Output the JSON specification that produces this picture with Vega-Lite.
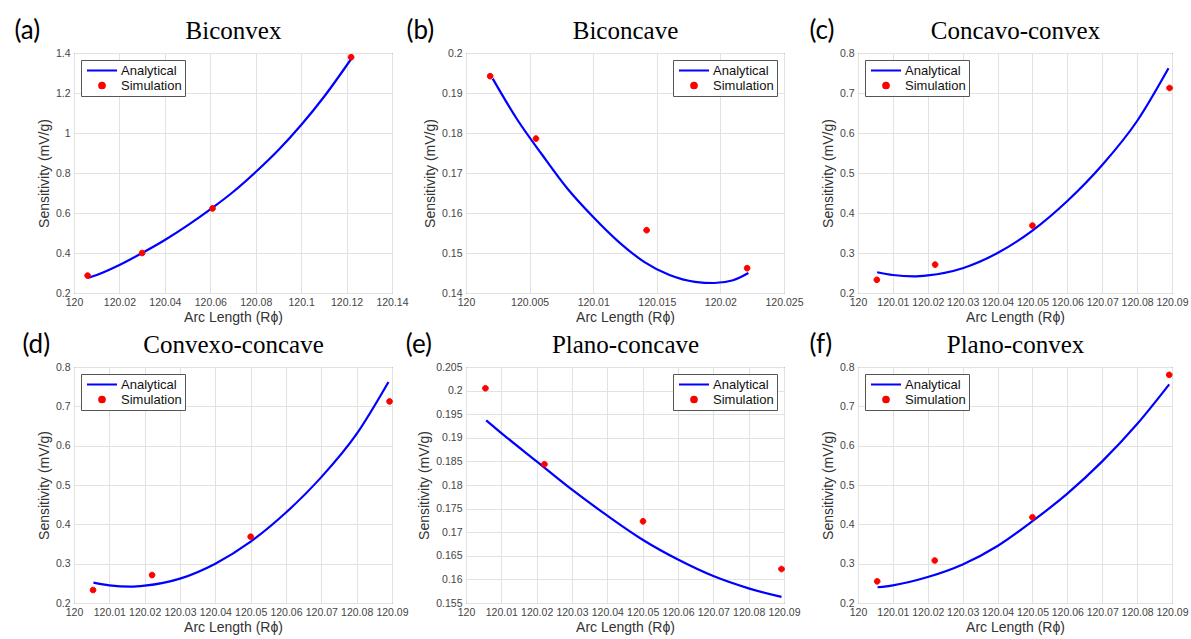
{
  "$schema": "https://vega.github.io/schema/vega-lite/v6.json",
  "background": "white",
  "padding": {"left": 13, "top": 17, "right": 0, "bottom": 0},
  "config": {
    "font": "Liberation Sans",
    "view": {"stroke": "#3c3c3c", "strokeWidth": 1},
    "axis": {"labelFont": "Liberation Sans", "labelFontSize": 10.5, "labelColor": "#444444", "titleFont": "Liberation Sans", "titleFontSize": 14, "titleFontWeight": "normal", "titleColor": "#333333", "gridColor": "#e2e2e2", "gridWidth": 1, "domain": false, "ticks": false, "labelPadding": 4, "labelOverlap": false, "labelFlush": false},
    "axisX": {"titlePadding": 3},
    "axisY": {"titlePadding": 4},
    "legend": {"strokeColor": "#555555", "fillColor": "white", "padding": 3, "offset": 7, "labelFont": "Liberation Sans", "labelFontSize": 13, "labelColor": "#111111", "symbolSize": 900, "symbolStrokeWidth": 2, "rowPadding": 0, "clipHeight": 15, "symbolOffset": 2, "labelOffset": 3, "cornerRadius": 0, "title": null},
    "title": {"font": "Lato", "fontSize": 26, "fontWeight": "normal", "color": "black"}
  },
  "datasets": {
    "d": [
      {"panel": "a", "series": "Analytical", "x": 120.006, "y": 0.275},
      {"panel": "a", "series": "Analytical", "x": 120.01, "y": 0.29},
      {"panel": "a", "series": "Analytical", "x": 120.02, "y": 0.34},
      {"panel": "a", "series": "Analytical", "x": 120.03, "y": 0.4},
      {"panel": "a", "series": "Analytical", "x": 120.04, "y": 0.465},
      {"panel": "a", "series": "Analytical", "x": 120.05, "y": 0.538},
      {"panel": "a", "series": "Analytical", "x": 120.06, "y": 0.618},
      {"panel": "a", "series": "Analytical", "x": 120.07, "y": 0.705},
      {"panel": "a", "series": "Analytical", "x": 120.08, "y": 0.805},
      {"panel": "a", "series": "Analytical", "x": 120.09, "y": 0.915},
      {"panel": "a", "series": "Analytical", "x": 120.1, "y": 1.04},
      {"panel": "a", "series": "Analytical", "x": 120.11, "y": 1.18},
      {"panel": "a", "series": "Analytical", "x": 120.122, "y": 1.37},
      {"panel": "a", "series": "Simulation", "x": 120.006, "y": 0.287},
      {"panel": "a", "series": "Simulation", "x": 120.03, "y": 0.4},
      {"panel": "a", "series": "Simulation", "x": 120.061, "y": 0.623},
      {"panel": "a", "series": "Simulation", "x": 120.122, "y": 1.379},

      {"panel": "b", "series": "Analytical", "x": 120.0021, "y": 0.1936},
      {"panel": "b", "series": "Analytical", "x": 120.004, "y": 0.1835},
      {"panel": "b", "series": "Analytical", "x": 120.006, "y": 0.1745},
      {"panel": "b", "series": "Analytical", "x": 120.008, "y": 0.166},
      {"panel": "b", "series": "Analytical", "x": 120.01, "y": 0.159},
      {"panel": "b", "series": "Analytical", "x": 120.012, "y": 0.1528},
      {"panel": "b", "series": "Analytical", "x": 120.014, "y": 0.1478},
      {"panel": "b", "series": "Analytical", "x": 120.016, "y": 0.1445},
      {"panel": "b", "series": "Analytical", "x": 120.018, "y": 0.1428},
      {"panel": "b", "series": "Analytical", "x": 120.0195, "y": 0.1425},
      {"panel": "b", "series": "Analytical", "x": 120.021, "y": 0.1432},
      {"panel": "b", "series": "Analytical", "x": 120.0222, "y": 0.145},
      {"panel": "b", "series": "Simulation", "x": 120.0019, "y": 0.1942},
      {"panel": "b", "series": "Simulation", "x": 120.0055, "y": 0.1786},
      {"panel": "b", "series": "Simulation", "x": 120.0142, "y": 0.1557},
      {"panel": "b", "series": "Simulation", "x": 120.0221, "y": 0.1462},

      {"panel": "c", "series": "Analytical", "x": 120.0055, "y": 0.252},
      {"panel": "c", "series": "Analytical", "x": 120.01, "y": 0.245},
      {"panel": "c", "series": "Analytical", "x": 120.016, "y": 0.2415},
      {"panel": "c", "series": "Analytical", "x": 120.02, "y": 0.244},
      {"panel": "c", "series": "Analytical", "x": 120.03, "y": 0.262},
      {"panel": "c", "series": "Analytical", "x": 120.04, "y": 0.3},
      {"panel": "c", "series": "Analytical", "x": 120.05, "y": 0.356},
      {"panel": "c", "series": "Analytical", "x": 120.06, "y": 0.43},
      {"panel": "c", "series": "Analytical", "x": 120.07, "y": 0.52},
      {"panel": "c", "series": "Analytical", "x": 120.08, "y": 0.63},
      {"panel": "c", "series": "Analytical", "x": 120.089, "y": 0.762},
      {"panel": "c", "series": "Simulation", "x": 120.0054, "y": 0.233},
      {"panel": "c", "series": "Simulation", "x": 120.0221, "y": 0.271},
      {"panel": "c", "series": "Simulation", "x": 120.05, "y": 0.3685},
      {"panel": "c", "series": "Simulation", "x": 120.0893, "y": 0.7125},

      {"panel": "d", "series": "Analytical", "x": 120.0055, "y": 0.252},
      {"panel": "d", "series": "Analytical", "x": 120.01, "y": 0.245},
      {"panel": "d", "series": "Analytical", "x": 120.016, "y": 0.2415},
      {"panel": "d", "series": "Analytical", "x": 120.02, "y": 0.244},
      {"panel": "d", "series": "Analytical", "x": 120.03, "y": 0.262},
      {"panel": "d", "series": "Analytical", "x": 120.04, "y": 0.3},
      {"panel": "d", "series": "Analytical", "x": 120.05, "y": 0.356},
      {"panel": "d", "series": "Analytical", "x": 120.06, "y": 0.43},
      {"panel": "d", "series": "Analytical", "x": 120.07, "y": 0.52},
      {"panel": "d", "series": "Analytical", "x": 120.08, "y": 0.63},
      {"panel": "d", "series": "Analytical", "x": 120.089, "y": 0.762},
      {"panel": "d", "series": "Simulation", "x": 120.0054, "y": 0.233},
      {"panel": "d", "series": "Simulation", "x": 120.0221, "y": 0.271},
      {"panel": "d", "series": "Simulation", "x": 120.05, "y": 0.3685},
      {"panel": "d", "series": "Simulation", "x": 120.0893, "y": 0.7125},

      {"panel": "e", "series": "Analytical", "x": 120.0057, "y": 0.1937},
      {"panel": "e", "series": "Analytical", "x": 120.01, "y": 0.191},
      {"panel": "e", "series": "Analytical", "x": 120.02, "y": 0.185},
      {"panel": "e", "series": "Analytical", "x": 120.03, "y": 0.179},
      {"panel": "e", "series": "Analytical", "x": 120.04, "y": 0.1735},
      {"panel": "e", "series": "Analytical", "x": 120.05, "y": 0.1684},
      {"panel": "e", "series": "Analytical", "x": 120.06, "y": 0.1642},
      {"panel": "e", "series": "Analytical", "x": 120.07, "y": 0.1607},
      {"panel": "e", "series": "Analytical", "x": 120.08, "y": 0.1581},
      {"panel": "e", "series": "Analytical", "x": 120.0893, "y": 0.1563},
      {"panel": "e", "series": "Simulation", "x": 120.0055, "y": 0.2005},
      {"panel": "e", "series": "Simulation", "x": 120.0222, "y": 0.1844},
      {"panel": "e", "series": "Simulation", "x": 120.0501, "y": 0.1723},
      {"panel": "e", "series": "Simulation", "x": 120.0893, "y": 0.1622},

      {"panel": "f", "series": "Analytical", "x": 120.0056, "y": 0.24},
      {"panel": "f", "series": "Analytical", "x": 120.01, "y": 0.245},
      {"panel": "f", "series": "Analytical", "x": 120.02, "y": 0.266},
      {"panel": "f", "series": "Analytical", "x": 120.03, "y": 0.298},
      {"panel": "f", "series": "Analytical", "x": 120.04, "y": 0.345},
      {"panel": "f", "series": "Analytical", "x": 120.05, "y": 0.408},
      {"panel": "f", "series": "Analytical", "x": 120.06, "y": 0.478},
      {"panel": "f", "series": "Analytical", "x": 120.07, "y": 0.56},
      {"panel": "f", "series": "Analytical", "x": 120.08, "y": 0.655},
      {"panel": "f", "series": "Analytical", "x": 120.0892, "y": 0.756},
      {"panel": "f", "series": "Simulation", "x": 120.0055, "y": 0.255},
      {"panel": "f", "series": "Simulation", "x": 120.022, "y": 0.308},
      {"panel": "f", "series": "Simulation", "x": 120.05, "y": 0.418},
      {"panel": "f", "series": "Simulation", "x": 120.0892, "y": 0.78}
    ]
  },
  "columns": 3,
  "spacing": {"row": 74, "column": 74},
  "bounds": "flush",
  "resolve": {"scale": {"x": "independent", "y": "independent", "color": "independent", "stroke": "independent", "shape": "independent"}, "legend": {"color": "independent", "stroke": "independent", "shape": "independent"}, "axis": {"x": "independent", "y": "independent"}},
  "concat": [
    {
      "width": 318, "height": 240,
      "title": {"text": "(a)", "anchor": "start", "frame": "bounds", "dx": -23, "dy": 30},
      "data": {"name": "d"},
      "transform": [{"filter": "datum.panel === 'a'"}],
      "encoding": {
        "y": {"field": "y", "type": "quantitative", "scale": {"domain": [0.2, 1.4], "nice": false, "zero": false}, "axis": {"values": [0.2, 0.4, 0.6, 0.8, 1, 1.2, 1.4], "format": "~g", "title": "Sensitivity (mV/g)"}},
        "color": {"field": "series", "type": "nominal", "scale": {"domain": ["Analytical", "Simulation"], "range": ["#0000ff", "#ff0000"]}, "legend": {"orient": "top-left"}},
        "stroke": {"field": "series", "type": "nominal", "scale": {"domain": ["Analytical", "Simulation"], "range": ["#0000ff", "#ff0000"]}, "legend": {"orient": "top-left"}}
      },
      "layer": [
        {"transform": [{"filter": "datum.series === 'Analytical'"}], "mark": {"type": "line", "strokeWidth": 2.2, "interpolate": "monotone"},
         "encoding": {"x": {"field": "x", "type": "quantitative", "scale": {"domain": [120, 120.14], "nice": false, "zero": false}, "axis": {"orient": "bottom", "values": [120, 120.02, 120.04, 120.06, 120.08, 120.1, 120.12, 120.14], "format": "~g", "title": "Arc Length  (Rϕ)"}}}},
        {"transform": [{"filter": "datum.series === 'Simulation'"}], "mark": {"type": "point", "filled": true, "opacity": 1, "size": 900, "strokeWidth": 1},
         "encoding": {"x": {"field": "x", "type": "quantitative", "scale": {"domain": [120, 120.14], "nice": false, "zero": false}, "axis": {"orient": "top", "labels": false, "ticks": false, "grid": false, "domain": false, "title": "Biconvex", "titleFont": "Liberation Serif", "titleFontSize": 25, "titleColor": "black", "titlePadding": 10}},
           "shape": {"field": "series", "type": "nominal", "scale": {"domain": ["Analytical", "Simulation"], "range": ["M-1,0L1,0", "M0.19,0A0.19,0.19 0 1,1 -0.19,0A0.19,0.19 0 1,1 0.19,0Z"]}, "legend": {"orient": "top-left"}}}}
      ],
      "resolve": {"axis": {"x": "independent"}}
    },
    {
      "width": 318, "height": 240,
      "title": {"text": "(b)", "anchor": "start", "frame": "bounds", "dx": -17, "dy": 30},
      "data": {"name": "d"},
      "transform": [{"filter": "datum.panel === 'b'"}],
      "encoding": {
        "y": {"field": "y", "type": "quantitative", "scale": {"domain": [0.14, 0.2], "nice": false, "zero": false}, "axis": {"values": [0.14, 0.15, 0.16, 0.17, 0.18, 0.19, 0.2], "format": "~g", "title": "Sensitivity (mV/g)"}},
        "color": {"field": "series", "type": "nominal", "scale": {"domain": ["Analytical", "Simulation"], "range": ["#0000ff", "#ff0000"]}, "legend": {"orient": "top-right"}},
        "stroke": {"field": "series", "type": "nominal", "scale": {"domain": ["Analytical", "Simulation"], "range": ["#0000ff", "#ff0000"]}, "legend": {"orient": "top-right"}}
      },
      "layer": [
        {"transform": [{"filter": "datum.series === 'Analytical'"}], "mark": {"type": "line", "strokeWidth": 2.2, "interpolate": "monotone"},
         "encoding": {"x": {"field": "x", "type": "quantitative", "scale": {"domain": [120, 120.025], "nice": false, "zero": false}, "axis": {"orient": "bottom", "values": [120, 120.005, 120.01, 120.015, 120.02, 120.025], "format": "~g", "title": "Arc Length  (Rϕ)"}}}},
        {"transform": [{"filter": "datum.series === 'Simulation'"}], "mark": {"type": "point", "filled": true, "opacity": 1, "size": 900, "strokeWidth": 1},
         "encoding": {"x": {"field": "x", "type": "quantitative", "scale": {"domain": [120, 120.025], "nice": false, "zero": false}, "axis": {"orient": "top", "labels": false, "ticks": false, "grid": false, "domain": false, "title": "Biconcave", "titleFont": "Liberation Serif", "titleFontSize": 25, "titleColor": "black", "titlePadding": 10}},
           "shape": {"field": "series", "type": "nominal", "scale": {"domain": ["Analytical", "Simulation"], "range": ["M-1,0L1,0", "M0.19,0A0.19,0.19 0 1,1 -0.19,0A0.19,0.19 0 1,1 0.19,0Z"]}, "legend": {"orient": "top-right"}}}}
      ],
      "resolve": {"axis": {"x": "independent"}}
    },
    {
      "width": 314, "height": 240,
      "title": {"text": "(c)", "anchor": "start", "frame": "bounds", "dx": -12, "dy": 30},
      "data": {"name": "d"},
      "transform": [{"filter": "datum.panel === 'c'"}],
      "encoding": {
        "y": {"field": "y", "type": "quantitative", "scale": {"domain": [0.2, 0.8], "nice": false, "zero": false}, "axis": {"values": [0.2, 0.3, 0.4, 0.5, 0.6, 0.7, 0.8], "format": "~g", "title": "Sensitivity (mV/g)"}},
        "color": {"field": "series", "type": "nominal", "scale": {"domain": ["Analytical", "Simulation"], "range": ["#0000ff", "#ff0000"]}, "legend": {"orient": "top-left"}},
        "stroke": {"field": "series", "type": "nominal", "scale": {"domain": ["Analytical", "Simulation"], "range": ["#0000ff", "#ff0000"]}, "legend": {"orient": "top-left"}}
      },
      "layer": [
        {"transform": [{"filter": "datum.series === 'Analytical'"}], "mark": {"type": "line", "strokeWidth": 2.2, "interpolate": "monotone"},
         "encoding": {"x": {"field": "x", "type": "quantitative", "scale": {"domain": [120, 120.09], "nice": false, "zero": false}, "axis": {"orient": "bottom", "values": [120, 120.01, 120.02, 120.03, 120.04, 120.05, 120.06, 120.07, 120.08, 120.09], "format": "~g", "title": "Arc Length  (Rϕ)"}}}},
        {"transform": [{"filter": "datum.series === 'Simulation'"}], "mark": {"type": "point", "filled": true, "opacity": 1, "size": 900, "strokeWidth": 1},
         "encoding": {"x": {"field": "x", "type": "quantitative", "scale": {"domain": [120, 120.09], "nice": false, "zero": false}, "axis": {"orient": "top", "labels": false, "ticks": false, "grid": false, "domain": false, "title": "Concavo-convex", "titleFont": "Liberation Serif", "titleFontSize": 25, "titleColor": "black", "titlePadding": 10}},
           "shape": {"field": "series", "type": "nominal", "scale": {"domain": ["Analytical", "Simulation"], "range": ["M-1,0L1,0", "M0.19,0A0.19,0.19 0 1,1 -0.19,0A0.19,0.19 0 1,1 0.19,0Z"]}, "legend": {"orient": "top-left"}}}}
      ],
      "resolve": {"axis": {"x": "independent"}}
    },
    {
      "width": 318, "height": 236,
      "title": {"text": "(d)", "anchor": "start", "frame": "bounds", "dx": -15, "dy": 30},
      "data": {"name": "d"},
      "transform": [{"filter": "datum.panel === 'd'"}],
      "encoding": {
        "y": {"field": "y", "type": "quantitative", "scale": {"domain": [0.2, 0.8], "nice": false, "zero": false}, "axis": {"values": [0.2, 0.3, 0.4, 0.5, 0.6, 0.7, 0.8], "format": "~g", "title": "Sensitivity (mV/g)"}},
        "color": {"field": "series", "type": "nominal", "scale": {"domain": ["Analytical", "Simulation"], "range": ["#0000ff", "#ff0000"]}, "legend": {"orient": "top-left"}},
        "stroke": {"field": "series", "type": "nominal", "scale": {"domain": ["Analytical", "Simulation"], "range": ["#0000ff", "#ff0000"]}, "legend": {"orient": "top-left"}}
      },
      "layer": [
        {"transform": [{"filter": "datum.series === 'Analytical'"}], "mark": {"type": "line", "strokeWidth": 2.2, "interpolate": "monotone"},
         "encoding": {"x": {"field": "x", "type": "quantitative", "scale": {"domain": [120, 120.09], "nice": false, "zero": false}, "axis": {"orient": "bottom", "values": [120, 120.01, 120.02, 120.03, 120.04, 120.05, 120.06, 120.07, 120.08, 120.09], "format": "~g", "title": "Arc Length  (Rϕ)"}}}},
        {"transform": [{"filter": "datum.series === 'Simulation'"}], "mark": {"type": "point", "filled": true, "opacity": 1, "size": 900, "strokeWidth": 1},
         "encoding": {"x": {"field": "x", "type": "quantitative", "scale": {"domain": [120, 120.09], "nice": false, "zero": false}, "axis": {"orient": "top", "labels": false, "ticks": false, "grid": false, "domain": false, "title": "Convexo-concave", "titleFont": "Liberation Serif", "titleFontSize": 25, "titleColor": "black", "titlePadding": 10}},
           "shape": {"field": "series", "type": "nominal", "scale": {"domain": ["Analytical", "Simulation"], "range": ["M-1,0L1,0", "M0.19,0A0.19,0.19 0 1,1 -0.19,0A0.19,0.19 0 1,1 0.19,0Z"]}, "legend": {"orient": "top-left"}}}}
      ],
      "resolve": {"axis": {"x": "independent"}}
    },
    {
      "width": 318, "height": 236,
      "title": {"text": "(e)", "anchor": "start", "frame": "bounds", "dx": -12, "dy": 30},
      "data": {"name": "d"},
      "transform": [{"filter": "datum.panel === 'e'"}],
      "encoding": {
        "y": {"field": "y", "type": "quantitative", "scale": {"domain": [0.155, 0.205], "nice": false, "zero": false}, "axis": {"values": [0.155, 0.16, 0.165, 0.17, 0.175, 0.18, 0.185, 0.19, 0.195, 0.2, 0.205], "format": "~g", "title": "Sensitivity (mV/g)"}},
        "color": {"field": "series", "type": "nominal", "scale": {"domain": ["Analytical", "Simulation"], "range": ["#0000ff", "#ff0000"]}, "legend": {"orient": "top-right"}},
        "stroke": {"field": "series", "type": "nominal", "scale": {"domain": ["Analytical", "Simulation"], "range": ["#0000ff", "#ff0000"]}, "legend": {"orient": "top-right"}}
      },
      "layer": [
        {"transform": [{"filter": "datum.series === 'Analytical'"}], "mark": {"type": "line", "strokeWidth": 2.2, "interpolate": "monotone"},
         "encoding": {"x": {"field": "x", "type": "quantitative", "scale": {"domain": [120, 120.09], "nice": false, "zero": false}, "axis": {"orient": "bottom", "values": [120, 120.01, 120.02, 120.03, 120.04, 120.05, 120.06, 120.07, 120.08, 120.09], "format": "~g", "title": "Arc Length  (Rϕ)"}}}},
        {"transform": [{"filter": "datum.series === 'Simulation'"}], "mark": {"type": "point", "filled": true, "opacity": 1, "size": 900, "strokeWidth": 1},
         "encoding": {"x": {"field": "x", "type": "quantitative", "scale": {"domain": [120, 120.09], "nice": false, "zero": false}, "axis": {"orient": "top", "labels": false, "ticks": false, "grid": false, "domain": false, "title": "Plano-concave", "titleFont": "Liberation Serif", "titleFontSize": 25, "titleColor": "black", "titlePadding": 10}},
           "shape": {"field": "series", "type": "nominal", "scale": {"domain": ["Analytical", "Simulation"], "range": ["M-1,0L1,0", "M0.19,0A0.19,0.19 0 1,1 -0.19,0A0.19,0.19 0 1,1 0.19,0Z"]}, "legend": {"orient": "top-right"}}}}
      ],
      "resolve": {"axis": {"x": "independent"}}
    },
    {
      "width": 314, "height": 236,
      "title": {"text": "(f)", "anchor": "start", "frame": "bounds", "dx": -12, "dy": 30},
      "data": {"name": "d"},
      "transform": [{"filter": "datum.panel === 'f'"}],
      "encoding": {
        "y": {"field": "y", "type": "quantitative", "scale": {"domain": [0.2, 0.8], "nice": false, "zero": false}, "axis": {"values": [0.2, 0.3, 0.4, 0.5, 0.6, 0.7, 0.8], "format": "~g", "title": "Sensitivity (mV/g)"}},
        "color": {"field": "series", "type": "nominal", "scale": {"domain": ["Analytical", "Simulation"], "range": ["#0000ff", "#ff0000"]}, "legend": {"orient": "top-left"}},
        "stroke": {"field": "series", "type": "nominal", "scale": {"domain": ["Analytical", "Simulation"], "range": ["#0000ff", "#ff0000"]}, "legend": {"orient": "top-left"}}
      },
      "layer": [
        {"transform": [{"filter": "datum.series === 'Analytical'"}], "mark": {"type": "line", "strokeWidth": 2.2, "interpolate": "monotone"},
         "encoding": {"x": {"field": "x", "type": "quantitative", "scale": {"domain": [120, 120.09], "nice": false, "zero": false}, "axis": {"orient": "bottom", "values": [120, 120.01, 120.02, 120.03, 120.04, 120.05, 120.06, 120.07, 120.08, 120.09], "format": "~g", "title": "Arc Length  (Rϕ)"}}}},
        {"transform": [{"filter": "datum.series === 'Simulation'"}], "mark": {"type": "point", "filled": true, "opacity": 1, "size": 900, "strokeWidth": 1},
         "encoding": {"x": {"field": "x", "type": "quantitative", "scale": {"domain": [120, 120.09], "nice": false, "zero": false}, "axis": {"orient": "top", "labels": false, "ticks": false, "grid": false, "domain": false, "title": "Plano-convex", "titleFont": "Liberation Serif", "titleFontSize": 25, "titleColor": "black", "titlePadding": 10}},
           "shape": {"field": "series", "type": "nominal", "scale": {"domain": ["Analytical", "Simulation"], "range": ["M-1,0L1,0", "M0.19,0A0.19,0.19 0 1,1 -0.19,0A0.19,0.19 0 1,1 0.19,0Z"]}, "legend": {"orient": "top-left"}}}}
      ],
      "resolve": {"axis": {"x": "independent"}}
    }
  ]
}
